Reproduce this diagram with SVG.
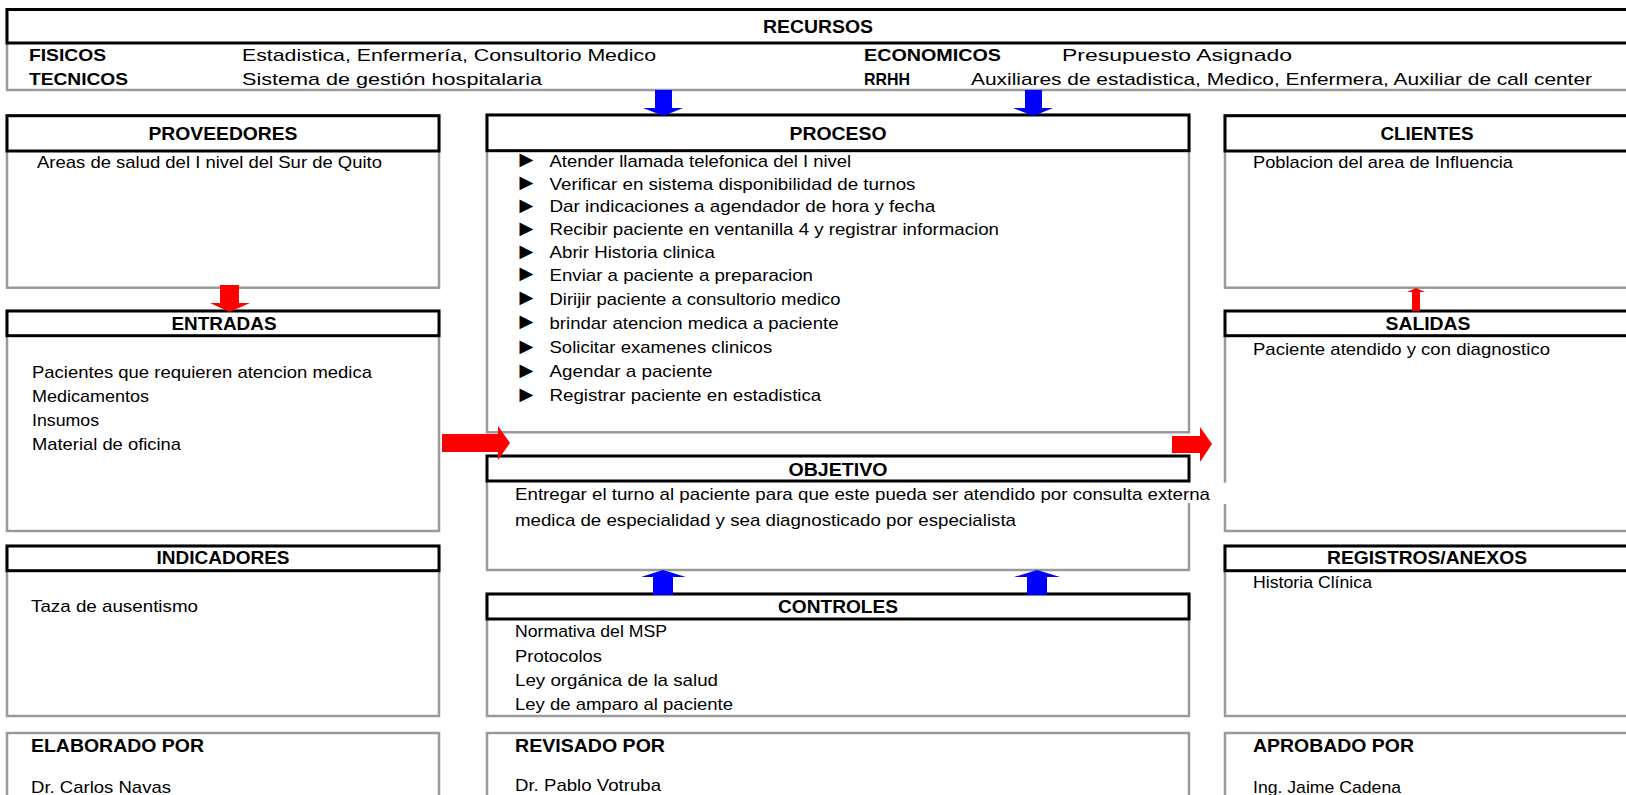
<svg xmlns="http://www.w3.org/2000/svg" width="1626" height="795" viewBox="0 0 1626 795">
<style>
.hdr{fill:#fff;stroke:#000;stroke-width:3}
.bd{fill:#fff;stroke:#9a9a9a;stroke-width:2.5}
.fw{fill:#fff;stroke:none}
.gl{fill:none;stroke:#9a9a9a;stroke-width:2.5}
.t{font-family:"Liberation Sans",Arial,sans-serif;font-size:17px;fill:#000}
.b{font-family:"Liberation Sans",Arial,sans-serif;font-size:18px;font-weight:bold;fill:#000}
.bs{font-family:"Liberation Sans",Arial,sans-serif;font-size:17px;font-weight:bold;fill:#000}
.m{text-anchor:middle}
.bu{font-family:"Liberation Sans","DejaVu Sans",sans-serif;font-size:23px;fill:#000}
.red{fill:#ff0000}
.blue{fill:#0000ff}
</style>
<rect x="0" y="0" width="1626" height="795" fill="#fff"/>

<g id="recursos">
<rect class="bd" x="7" y="9.5" width="1622" height="80.5"/>
<rect class="hdr" x="7" y="9.5" width="1622" height="33.5"/>
<text class="b m" x="818" y="32.5" textLength="110" lengthAdjust="spacingAndGlyphs">RECURSOS</text>
<text class="bs" x="29" y="61" textLength="77" lengthAdjust="spacingAndGlyphs">FISICOS</text>
<text class="t" x="242" y="61" textLength="414" lengthAdjust="spacingAndGlyphs">Estadistica, Enfermería, Consultorio Medico</text>
<text class="bs" x="29" y="85" textLength="99" lengthAdjust="spacingAndGlyphs">TECNICOS</text>
<text class="t" x="242" y="85" textLength="300" lengthAdjust="spacingAndGlyphs">Sistema de gestión hospitalaria</text>
<text class="bs" x="864" y="61" textLength="137" lengthAdjust="spacingAndGlyphs">ECONOMICOS</text>
<text class="t" x="1062" y="61" textLength="230" lengthAdjust="spacingAndGlyphs">Presupuesto Asignado</text>
<text class="bs" x="864" y="85" textLength="46" lengthAdjust="spacingAndGlyphs">RRHH</text>
<text class="t" x="971" y="85" textLength="621" lengthAdjust="spacingAndGlyphs">Auxiliares de estadistica, Medico, Enfermera, Auxiliar de call center</text>
</g>

<g id="proveedores">
<rect class="bd" x="7" y="115.7" width="432" height="172"/>
<rect class="hdr" x="7" y="115.7" width="432" height="35.3"/>
<text class="b m" x="223" y="139.5" textLength="149" lengthAdjust="spacingAndGlyphs">PROVEEDORES</text>
<text class="t" x="37" y="167.5" textLength="345" lengthAdjust="spacingAndGlyphs">Areas de salud del I nivel del Sur de Quito</text>
</g>

<g id="entradas">
<rect class="bd" x="7" y="311" width="432" height="220"/>
<rect class="hdr" x="7" y="311" width="432" height="24.7"/>
<text class="b m" x="224" y="329.5" textLength="105" lengthAdjust="spacingAndGlyphs">ENTRADAS</text>
<text class="t" x="32" y="378" textLength="340" lengthAdjust="spacingAndGlyphs">Pacientes que requieren atencion medica</text>
<text class="t" x="32" y="401.7" textLength="117" lengthAdjust="spacingAndGlyphs">Medicamentos</text>
<text class="t" x="32" y="425.7" textLength="67" lengthAdjust="spacingAndGlyphs">Insumos</text>
<text class="t" x="32" y="449.7" textLength="149" lengthAdjust="spacingAndGlyphs">Material de oficina</text>
</g>

<g id="indicadores">
<rect class="bd" x="7" y="546" width="432" height="170"/>
<rect class="hdr" x="7" y="546" width="432" height="24.7"/>
<text class="b m" x="223" y="564" textLength="133" lengthAdjust="spacingAndGlyphs">INDICADORES</text>
<text class="t" x="31" y="611.5" textLength="167" lengthAdjust="spacingAndGlyphs">Taza de ausentismo</text>
</g>

<g id="elaborado">
<rect class="bd" x="7" y="733" width="432" height="80"/>
<text class="b" x="31" y="751.5" textLength="173" lengthAdjust="spacingAndGlyphs">ELABORADO POR</text>
<text class="t" x="31" y="792.5" textLength="140" lengthAdjust="spacingAndGlyphs">Dr. Carlos Navas</text>
</g>

<g id="proceso">
<rect class="bd" x="487" y="115" width="702" height="317.3"/>
<rect class="hdr" x="487" y="115" width="702" height="35.7"/>
<text class="b m" x="838" y="139.5" textLength="97" lengthAdjust="spacingAndGlyphs">PROCESO</text>
<text class="bu" x="515" y="167">►</text>
<text class="bu" x="515" y="190">►</text>
<text class="bu" x="515" y="212.9">►</text>
<text class="bu" x="515" y="235.7">►</text>
<text class="bu" x="515" y="258.5">►</text>
<text class="bu" x="515" y="281.3">►</text>
<text class="bu" x="515" y="305.2">►</text>
<text class="bu" x="515" y="329">►</text>
<text class="bu" x="515" y="353.9">►</text>
<text class="bu" x="515" y="377.7">►</text>
<text class="bu" x="515" y="401.5">►</text>
<text class="t" x="549.5" y="166.5" textLength="301.6" lengthAdjust="spacingAndGlyphs">Atender llamada telefonica del I nivel</text>
<text class="t" x="549.5" y="189.5" textLength="366" lengthAdjust="spacingAndGlyphs">Verificar en sistema disponibilidad de turnos</text>
<text class="t" x="549.5" y="212.4" textLength="385.7" lengthAdjust="spacingAndGlyphs">Dar indicaciones a agendador de hora y fecha</text>
<text class="t" x="549.5" y="235.2" textLength="449.5" lengthAdjust="spacingAndGlyphs">Recibir paciente en ventanilla 4 y registrar informacion</text>
<text class="t" x="549.5" y="258" textLength="165.3" lengthAdjust="spacingAndGlyphs">Abrir Historia clinica</text>
<text class="t" x="549.5" y="280.8" textLength="263.5" lengthAdjust="spacingAndGlyphs">Enviar a paciente a preparacion</text>
<text class="t" x="549.5" y="304.7" textLength="291" lengthAdjust="spacingAndGlyphs">Dirijir paciente a consultorio medico</text>
<text class="t" x="549.5" y="328.5" textLength="289" lengthAdjust="spacingAndGlyphs">brindar atencion medica a paciente</text>
<text class="t" x="549.5" y="353.4" textLength="222.7" lengthAdjust="spacingAndGlyphs">Solicitar examenes clinicos</text>
<text class="t" x="549.5" y="377.2" textLength="163" lengthAdjust="spacingAndGlyphs">Agendar a paciente</text>
<text class="t" x="549.5" y="401" textLength="271.8" lengthAdjust="spacingAndGlyphs">Registrar paciente en estadistica</text>
</g>

<g id="objetivo">
<rect class="fw" x="487" y="481" width="702" height="89"/>
<path class="gl" d="M487,481 V570 H1189 V503"/>
<rect class="hdr" x="487" y="456" width="702" height="25"/>
<text class="b m" x="838" y="475.5" textLength="99" lengthAdjust="spacingAndGlyphs">OBJETIVO</text>
<text class="t" x="515" y="499.5" textLength="695" lengthAdjust="spacingAndGlyphs">Entregar el turno al paciente para que este pueda ser atendido por consulta externa</text>
<text class="t" x="515" y="525.5" textLength="501" lengthAdjust="spacingAndGlyphs">medica de especialidad y sea diagnosticado por especialista</text>
</g>

<g id="controles">
<rect class="bd" x="487" y="594" width="702" height="122"/>
<rect class="hdr" x="487" y="594" width="702" height="25"/>
<text class="b m" x="838" y="613" textLength="120" lengthAdjust="spacingAndGlyphs">CONTROLES</text>
<text class="t" x="515" y="637" textLength="152" lengthAdjust="spacingAndGlyphs">Normativa del MSP</text>
<text class="t" x="515" y="661.5" textLength="87" lengthAdjust="spacingAndGlyphs">Protocolos</text>
<text class="t" x="515" y="686" textLength="203" lengthAdjust="spacingAndGlyphs">Ley orgánica de la salud</text>
<text class="t" x="515" y="709.5" textLength="218" lengthAdjust="spacingAndGlyphs">Ley de amparo al paciente</text>
</g>

<g id="revisado">
<rect class="bd" x="487" y="733" width="702" height="80"/>
<text class="b" x="515" y="751.5" textLength="150" lengthAdjust="spacingAndGlyphs">REVISADO POR</text>
<text class="t" x="515" y="790.7" textLength="146" lengthAdjust="spacingAndGlyphs">Dr. Pablo Votruba</text>
</g>

<g id="clientes">
<rect class="bd" x="1225" y="115.7" width="404" height="172"/>
<rect class="hdr" x="1225" y="115.7" width="404" height="35.3"/>
<text class="b m" x="1427" y="139.5" textLength="93" lengthAdjust="spacingAndGlyphs">CLIENTES</text>
<text class="t" x="1253" y="167.5" textLength="260" lengthAdjust="spacingAndGlyphs">Poblacion del area de Influencia</text>
</g>

<g id="salidas">
<rect class="fw" x="1225" y="335.7" width="404" height="195"/>
<path class="gl" d="M1225,335.7 V482.7 M1225,504 V531 H1630"/>
<rect class="hdr" x="1225" y="311" width="404" height="24.7"/>
<text class="b m" x="1428" y="329.5" textLength="85" lengthAdjust="spacingAndGlyphs">SALIDAS</text>
<text class="t" x="1253" y="355" textLength="297" lengthAdjust="spacingAndGlyphs">Paciente atendido y con diagnostico</text>
</g>

<g id="registros">
<rect class="bd" x="1225" y="546" width="404" height="170"/>
<rect class="hdr" x="1225" y="546" width="404" height="24.7"/>
<text class="b m" x="1427" y="564" textLength="200" lengthAdjust="spacingAndGlyphs">REGISTROS/ANEXOS</text>
<text class="t" x="1253" y="588" textLength="119" lengthAdjust="spacingAndGlyphs">Historia Clínica</text>
</g>

<g id="aprobado">
<rect class="bd" x="1225" y="733" width="404" height="80"/>
<text class="b" x="1253" y="751.5" textLength="161" lengthAdjust="spacingAndGlyphs">APROBADO POR</text>
<text class="t" x="1253" y="792.5" textLength="148" lengthAdjust="spacingAndGlyphs">Ing. Jaime Cadena</text>
</g>

<g id="connectors">
<polygon class="blue" points="655,90 672,90 672,108 683,108 663.5,116 643,108 655,108"/>
<polygon class="blue" points="1025,90 1042,90 1042,108 1053,108 1033.5,116 1013,108 1025,108"/>
<polygon class="blue" points="653,595 673,595 673,577 686,577 663,570 641,577 653,577"/>
<polygon class="blue" points="1027,595 1047,595 1047,577 1060,577 1037,570 1014,577 1027,577"/>
<polygon class="red" points="220,285 239,285 239,303 250,303 229.5,312 210,303 220,303"/>
<polygon class="red" points="442,434 498,434 498,426 510,443 498,460 498,452 442,452"/>
<polygon class="red" points="1172,436 1200,436 1200,427 1212,444 1200,462 1200,453 1172,453"/>
<polygon class="red" points="1412,311 1420,311 1420,292 1425,292 1416,288 1407,292 1412,292"/>
</g>
</svg>
